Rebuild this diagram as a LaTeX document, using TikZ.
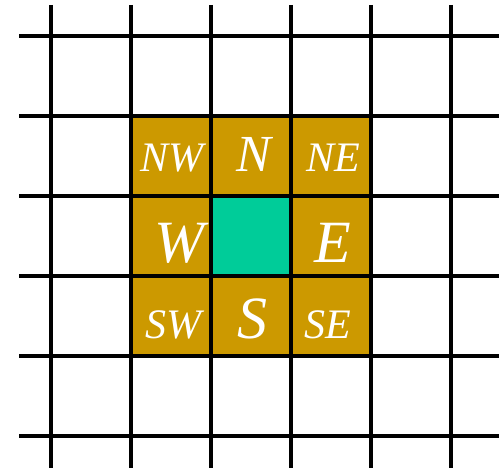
\documentclass[tikz,border=0pt]{standalone}
\usepackage{fontspec}
\setmainfont{Liberation Serif}
\definecolor{gold}{RGB}{204,153,0}
\definecolor{mint}{RGB}{0,204,153}

\begin{document}
\begin{tikzpicture}[x=1pt,y=-1pt,
  bigdir/.style={text=white, anchor=base, inner sep=0pt,
    font=\fontsize{60}{60}\selectfont\itshape},
  smalldir/.style={text=white, anchor=base, inner sep=0pt,
    font=\fontsize{42}{42}\selectfont\itshape}]

  \useasboundingbox (0,0) rectangle (501,468);

  % Parameters
  \def\lw{4pt}         % grid line width

  % Neighbourhood and centre cell
  \fill[gold] (131,116) rectangle (371,356);
  \fill[mint] (211,196) rectangle (291,276);

  % Grid
  \foreach \x in {51,131,...,451}
    \draw[line width=\lw] (\x,5) -- (\x,468);
  \foreach \y in {36,116,...,436}
    \draw[line width=\lw] (19,\y) -- (499,\y);

  % Direction labels
  \node[smalldir] (nw) at (172,172) {NW};
  \node[bigdir, font=\fontsize{52}{52}\selectfont\itshape] (n) at (254,172) {N};
  \node[smalldir] (ne) at (333,172) {NE};
  \node[bigdir]   (w)  at (179,262) {W};
  \node[bigdir]   (e)  at (333,262) {E};
  \node[smalldir] (sw) at (173,338) {SW};
  \node[bigdir]   (s)  at (252,338) {S};
  \node[smalldir] (se) at (328,338) {SE};
\end{tikzpicture}
\end{document}
